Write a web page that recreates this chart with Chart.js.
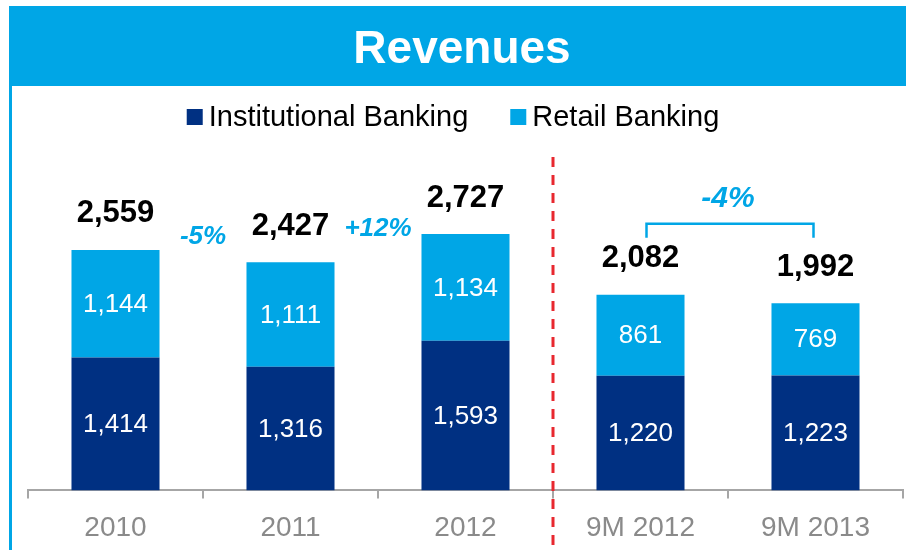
<!DOCTYPE html>
<html>
<head>
<meta charset="utf-8">
<title>Revenues</title>
<script src="https://cdn.jsdelivr.net/npm/chart.js@4.4.1/dist/chart.umd.min.js"></script>
<style>
  body { margin: 0; background: #fff; }
  canvas { display: block; }
</style>
</head>
<body>
<canvas id="revenues" width="906" height="550"></canvas>
<script>
// ---- data ---- //
const categories = ["2010", "2011", "2012", "9M 2012", "9M 2013"];
const institutional = [1414, 1316, 1593, 1220, 1223];
const retail = [1144, 1111, 1134, 861, 769];
const totals = [2559, 2427, 2727, 2082, 1992];
const growthLabels = [
    { from: 0, to: 1, text: "-5%" },
    { from: 1, to: 2, text: "+12%" }
];
const periodChange = { from: 3, to: 4, text: "-4%" };

const NAVY = "#003082";
const CYAN = "#00a6e6";
const FONT = "'Liberation Sans', Arial, sans-serif";

function fmt(v) {
    return v.toLocaleString("en-US");
}

// ---- decorations: header, legend, labels, divider ---- //
const deco = {
    id: "deco",
    beforeDraw(chart) {
        const c = chart.ctx;
        c.save();
        c.fillStyle = "#fff";
        c.fillRect(0, 0, chart.width, chart.height);
        // header band + left rule
        c.fillStyle = CYAN;
        c.fillRect(9, 6, chart.width - 9, 80);
        c.fillRect(9, 86, 3, chart.height - 86);
        c.fillStyle = "#fff";
        c.font = "bold 46px " + FONT;
        c.textAlign = "center";
        c.textBaseline = "alphabetic";
        c.fillText("Revenues", 462, 63);

        // legend
        c.font = "29px " + FONT;
        const ds = chart.data.datasets;
        const box = 16, gap = 6, spacing = 42;
        let total = 0;
        ds.forEach((d, i) => {
            total += box + gap + c.measureText(d.label).width;
            if (i < ds.length - 1) total += spacing;
        });
        let x = (chart.width - total) / 2;
        const ly = 117;
        c.textAlign = "left";
        c.textBaseline = "middle";
        ds.forEach(d => {
            c.fillStyle = d.backgroundColor;
            c.fillRect(x, ly - box / 2, box, box);
            x += box + gap;
            c.fillStyle = "#000";
            c.fillText(d.label, x, ly + 1);
            x += c.measureText(d.label).width + spacing;
        });
        c.restore();
    },
    afterDatasetsDraw(chart) {
        const c = chart.ctx;
        const xs = chart.scales.x;
        const topMeta = chart.getDatasetMeta(1).data;
        c.save();
        c.textAlign = "center";
        c.textBaseline = "middle";

        // values inside segments
        c.font = "26px " + FONT;
        c.fillStyle = "#fff";
        chart.data.datasets.forEach((d, di) => {
            chart.getDatasetMeta(di).data.forEach((el, i) => {
                c.fillText(fmt(d.data[i]), el.x, (el.y + el.base) / 2 + 1);
            });
        });

        // totals above bars
        c.font = "bold 31px " + FONT;
        c.fillStyle = "#000";
        topMeta.forEach((el, i) => {
            c.fillText(fmt(totals[i]), el.x, el.y - 36);
        });

        // growth rates between years
        c.font = "italic bold 26px " + FONT;
        c.fillStyle = CYAN;
        growthLabels.forEach(g => {
            const a = topMeta[g.from], b = topMeta[g.to];
            c.fillText(g.text, (a.x + b.x) / 2, (a.y + b.y) / 2 - 19);
        });

        // bracket for 9M comparison
        const a = topMeta[periodChange.from], b = topMeta[periodChange.to];
        const by = Math.min(a.y, b.y) - 71;
        c.strokeStyle = CYAN;
        c.lineWidth = 2.5;
        c.beginPath();
        c.moveTo(a.x + 6, by + 14);
        c.lineTo(a.x + 6, by);
        c.lineTo(b.x - 2, by);
        c.lineTo(b.x - 2, by + 14);
        c.stroke();
        c.font = "italic bold 30px " + FONT;
        c.fillText(periodChange.text, (a.x + b.x) / 2, by - 25);

        // dashed divider between full years and 9M
        const dx = (xs.getPixelForValue(2) + xs.getPixelForValue(3)) / 2;
        c.strokeStyle = "#e8282f";
        c.lineWidth = 3;
        c.setLineDash([10, 8]);
        c.beginPath();
        c.moveTo(dx, 157);
        c.lineTo(dx, chart.height);
        c.stroke();
        c.restore();
    }
};

const ctx = document.getElementById("revenues");
const revenueChart = new Chart(ctx, {
    type: "bar",
    data: {
        labels: categories,
        datasets: [{
            label: "Institutional Banking",
            data: institutional,
            backgroundColor: NAVY
        }, {
            label: "Retail Banking",
            data: retail,
            backgroundColor: CYAN
        }]
    },
    options: {
        responsive: false,
        animation: false,
        devicePixelRatio: 1,
        categoryPercentage: 1,
        barPercentage: 0.503,
        layout: { padding: { top: 152, left: 28, right: 3, bottom: -8 } },
        plugins: {
            legend: { display: false },
            title: { display: false },
            tooltip: { enabled: false }
        },
        scales: {
            x: {
                stacked: true,
                grid: {
                    offset: true,
                    drawOnChartArea: false,
                    drawTicks: true,
                    tickLength: 8,
                    color: "#a6a6a6",
                    lineWidth: 2
                },
                border: { color: "#a6a6a6", width: 2 },
                ticks: {
                    color: "#8a8a8a",
                    padding: 13,
                    font: { family: FONT, size: 28 }
                }
            },
            y: {
                stacked: true,
                display: false,
                min: 0,
                max: 3600
            }
        }
    },
    plugins: [deco]
});
</script>
</body>
</html>
